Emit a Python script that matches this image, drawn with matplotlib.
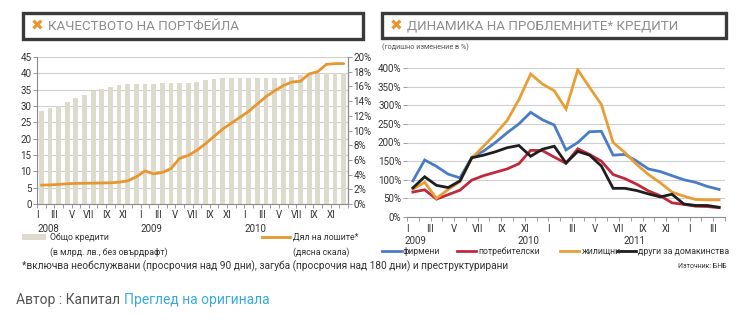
import matplotlib
matplotlib.use("Agg")
import matplotlib.pyplot as plt
from matplotlib import font_manager
from matplotlib.patches import Rectangle
from matplotlib.lines import Line2D
from matplotlib.ticker import FuncFormatter

# ---------------- data ----------------
roman = ["I", "III", "V", "VII", "IX", "XI"]
roman_r = ["I", "III", "V", "VII", "IX", "XI", "I", "III", "V", "VII", "IX", "XI", "I", "III"]

# left chart: Jan 2008 .. Dec 2010
left_years = ["2008", "2009", "2010"]
total_credits = [28.6, 29.4, 30.0, 31.2, 32.3, 33.5, 34.7, 35.2, 35.8, 36.4, 36.6, 36.7,
                 36.7, 36.8, 37.0, 37.0, 37.0, 37.1, 37.2, 38.0, 38.3, 38.5, 38.5, 38.5,
                 38.5, 38.5, 38.6, 38.6, 38.7, 38.8, 39.6, 39.8, 39.9, 40.0, 40.0, 40.0]
bad_share = [2.57, 2.6, 2.66, 2.75, 2.8, 2.82, 2.84, 2.86, 2.88, 2.97, 3.15, 3.7,
             4.5, 4.1, 4.3, 4.8, 6.2, 6.6, 7.3, 8.2, 9.2, 10.2, 11.0, 11.8,
             12.6, 13.6, 14.6, 15.4, 16.1, 16.6, 16.7, 17.7, 18.0, 19.0, 19.1, 19.1]

# right chart: Jan 2009 .. Mar 2011 (annual change, %)
right_years = ["2009", "2010", "2011"]
corporate = [97, 153, 136, 115, 105, 160, 177, 200, 226, 250, 281, 261, 247, 180,
             200, 229, 230, 166, 168, 150, 129, 122, 111, 100, 93, 82, 74]
consumer = [67, 73, 48, 60, 72, 99, 111, 120, 129, 143, 179, 178, 161, 144,
            183, 168, 150, 114, 103, 88, 70, 57, 38, 34, 29, 28, 25]
housing = [75, 93, 50, 74, 95, 158, 190, 223, 259, 315, 384, 357, 339, 290,
           395, 348, 302, 200, 173, 141, 114, 92, 67, 56, 47, 46, 46]
other_hh = [78, 108, 85, 79, 97, 159, 166, 175, 186, 192, 163, 182, 190, 145,
            176, 166, 137, 77, 77, 71, 62, 54, 61, 35, 31, 31, 26]
series_names = ["фирмени", "потребителски", "жилищни", "други за домакинства"]

# ---------------- fonts ----------------
avail = {f.name for f in font_manager.fontManager.ttflist}
def pick(*names):
    for n in names:
        if n in avail:
            return n
    return "DejaVu Sans"
NARROW = pick("Liberation Sans Narrow", "DejaVu Sans Condensed", "Roboto", "Open Sans")
plt.rcParams["font.family"] = [NARROW, "DejaVu Sans"]

W, H = 741, 324
fig = plt.figure(figsize=(W / 100, H / 100), dpi=100)
fig.patch.set_facecolor("white")

def rect(x0, y0, x1, y1):
    return [x0 / W, 1 - y1 / H, (x1 - x0) / W, (y1 - y0) / H]

def fx(x):
    return x / W

def fy(y):
    return 1 - y / H

ORANGE = "#e8962e"
GRID = "#cfcfcf"
AX = "#8a8a8a"
TXT = "#333333"
LEGFS = 6.3

# ---------------- title boxes ----------------
def title_box(x0, y0, x1, y1, text):
    fig.patches.append(Rectangle((fx(x0), fy(y1)), fx(x1 - x0), (y1 - y0) / H,
                                 transform=fig.transFigure, facecolor="white",
                                 edgecolor="#3a3a3a", linewidth=2.4))
    ym = fy((y0 + y1) / 2)
    fig.text(fx(x0 + 8), ym, "✖", color=ORANGE, fontsize=11, fontweight="bold",
             va="center", ha="left", family="DejaVu Sans")
    fig.text(fx(x0 + 25), ym, text, color="#8c8c8c", fontsize=9.6,
             va="center", ha="left")

title_box(23, 13, 363, 39, "КАЧЕСТВОТО НА ПОРТФЕЙЛА")
title_box(382, 13, 726, 38, "ДИНАМИКА НА ПРОБЛЕМНИТЕ* КРЕДИТИ")

# ---------------- left chart ----------------
ax1 = fig.add_axes(rect(37, 57, 348, 204))
n1 = len(total_credits)
x1 = list(range(n1))
ax1.bar(x1, total_credits, width=0.55, color="#dcdbcd", zorder=2)
ax1.set_xlim(-0.5, n1 - 0.5)
ax1.set_ylim(0, 45)
ax1.set_yticks(range(0, 46, 5))
ax1.yaxis.grid(True, color=GRID, linewidth=0.8, zorder=0)
ax1.set_axisbelow(True)
ax1.spines["top"].set_visible(False)
for s in ["left", "right", "bottom"]:
    ax1.spines[s].set_color(AX)
    ax1.spines[s].set_linewidth(0.8)
ax1.tick_params(axis="y", labelsize=7, colors=AX, labelcolor=TXT, length=3, width=0.6, pad=1)
xt1 = [i - 0.5 for i in range(0, n1, 2)]
ax1.set_xticks(xt1)
ax1.set_xticklabels([roman[k % 6] for k in range(len(xt1))])
ax1.set_xticks([i - 0.5 for i in range(n1 + 1)], minor=True)
ax1.tick_params(axis="x", which="both", labelsize=7, colors=AX, labelcolor=TXT, length=3, width=0.6, pad=1)
for k, yname in enumerate(left_years):
    ax1.text(12 * k - 0.5, -0.135, yname, transform=ax1.get_xaxis_transform(),
             fontsize=7, color=TXT, ha="left", va="top")

ax1r = ax1.twinx()
ax1r.plot(x1, bad_share, color=ORANGE, linewidth=2.0, zorder=3, solid_capstyle="round")
ax1r.set_ylim(0, 20)
ax1r.set_yticks(range(0, 21, 2))
ax1r.yaxis.set_major_formatter(FuncFormatter(lambda v, p: f"{int(v)}%"))
ax1r.tick_params(axis="y", labelsize=7, colors=AX, labelcolor=TXT, length=3, width=0.6, pad=1)
for s in ["top", "left", "bottom"]:
    ax1r.spines[s].set_visible(False)
ax1r.spines["right"].set_color(AX)
ax1r.spines["right"].set_linewidth(0.8)

# left legend
fig.patches.append(Rectangle((fx(22), fy(240)), fx(24), 6 / H, transform=fig.transFigure,
                             facecolor="#dcdbcd", edgecolor="none"))
fig.text(fx(50), fy(237), "Общо кредити", fontsize=LEGFS, color=TXT, va="center")
fig.text(fx(50), fy(252), "(в млрд. лв., без овърдрафт)", fontsize=LEGFS, color=TXT, va="center")
fig.lines.append(Line2D([fx(262), fx(290)], [fy(237), fy(237)], transform=fig.transFigure,
                        color=ORANGE, linewidth=2))
fig.text(fx(293), fy(237), "Дял на лошите*", fontsize=LEGFS, color=TXT, va="center")
fig.text(fx(293), fy(252), "(дясна скала)", fontsize=LEGFS, color=TXT, va="center")

# ---------------- right chart ----------------
ax2 = fig.add_axes(rect(407, 68, 725, 217))
n2 = len(corporate)
x2 = list(range(n2))
colors = ["#4a7cc6", "#c1283c", "#e99d35", "#1e1e1e"]
for vals, c in zip([corporate, consumer, housing, other_hh], colors):
    ax2.plot(x2, vals, color=c, linewidth=2.0, solid_joinstyle="miter")
ax2.set_xlim(-0.5, n2 - 0.5)
ax2.set_ylim(0, 400)
ax2.set_yticks(range(0, 401, 50))
ax2.yaxis.set_major_formatter(FuncFormatter(lambda v, p: f"{int(v)}%"))
ax2.yaxis.grid(True, color=GRID, linewidth=0.8)
ax2.set_axisbelow(True)
for s in ["top", "right", "left"]:
    ax2.spines[s].set_visible(False)
ax2.spines["bottom"].set_color(AX)
ax2.spines["bottom"].set_linewidth(0.8)
ax2.tick_params(axis="y", labelsize=7, colors=AX, labelcolor=TXT, length=3, width=0.6, pad=1)
xt2 = [i - 0.5 for i in range(0, n2, 2)]
ax2.set_xticks(xt2)
ax2.set_xticklabels(roman_r[:len(xt2)])
ax2.set_xticks([i - 0.5 for i in range(n2 + 1)], minor=True)
ax2.tick_params(axis="x", which="both", labelsize=7, colors=AX, labelcolor=TXT, length=3, width=0.6, pad=2)
for xpos, yname in zip([0.2, 9.8, 18.8], right_years):
    ax2.text(xpos, -0.125, yname, transform=ax2.get_xaxis_transform(),
             fontsize=7, color=TXT, ha="center", va="top")

fig.text(fx(382), fy(47), "(годишно изменение в %)", fontsize=5.2, color="#555555", va="center")

# right legend
leg_pos = [(382, 403), (457, 478), (560, 582), (617, 638)]
for (lx, tx), c, name in zip(leg_pos, colors, series_names):
    fig.lines.append(Line2D([fx(lx), fx(lx + 19)], [fy(251), fy(251)], transform=fig.transFigure,
                            color=c, linewidth=2))
    fig.text(fx(tx), fy(251), name, fontsize=LEGFS, color=TXT, va="center")

# ---------------- footnotes ----------------
fig.text(fx(22), fy(266), "*включва необслужвани (просрочия над 90 дни), загуба (просрочия над 180 дни) и преструктурирани",
         fontsize=7.3, color=TXT, va="center")
fig.text(fx(727), fy(266), "Източник: БНБ", fontsize=5, color=TXT, va="center", ha="right")

t = fig.text(fx(16), fy(300), "Автор : Капитал ", fontsize=10, color="#555555", va="center")
fig.canvas.draw()
bb = t.get_window_extent()
fig.text(bb.x1 / fig.bbox.width, fy(300), "Преглед на оригинала", fontsize=10, color="#39a9dc",
         va="center")

fig.savefig("out.png", dpi=100, facecolor="white")
